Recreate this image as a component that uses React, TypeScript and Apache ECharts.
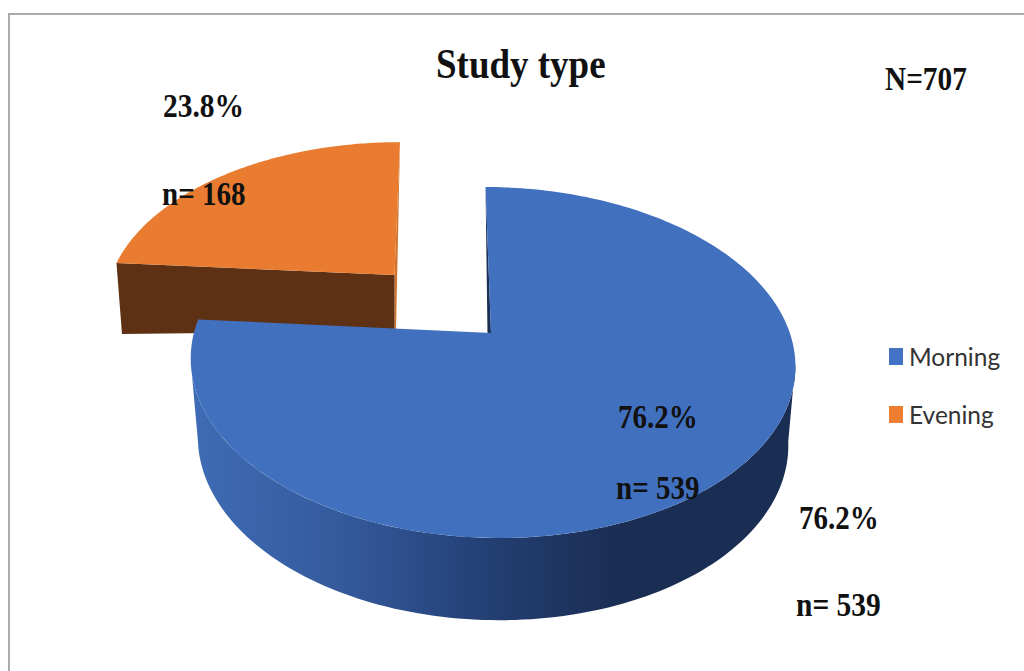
import React, { useEffect, useRef } from "react";
import * as echarts from "echarts";

const categories = ["Morning", "Evening"];
const counts = [539, 168];
const percents = ["76.2%", "23.8%"];
const chartTitle = "Study type";
const totalLabel = "N=707";

const total = counts[0] + counts[1];
const morningSweep = (counts[0] / total) * 2 * Math.PI;

type Frame = { x: number; y: number; rx: number; ry: number; shear: number; bow: number; tilt: number };
const persp = -0.168;

const morningTop: Frame = { x: 491, y: 333, rx: 298, ry: 114.6, shear: 6.4, bow: 1, tilt: 0.5 };
const morningBottom: Frame = { x: 491, y: 411, rx: 291, ry: 105, shear: 6.4, bow: 1, tilt: 0.5 };
const eveningTop: Frame = { x: 394.5, y: 275, rx: 283, ry: 109, shear: -6.4, bow: 0, tilt: 0 };

function rim(f: Frame, a: number): number[] {
  const u = Math.sin(a);
  const v = -Math.cos(a);
  const d = 1 + persp * v;
  return [f.x + (f.rx * u + f.shear * v) / d + f.bow * u * u, (f.y + f.ry * v) / d + f.tilt * u];
}
function arc(f: Frame, from: number, to: number, n = 120): number[][] {
  const pts: number[][] = [];
  for (let i = 0; i <= n; i++) pts.push(rim(f, from + ((to - from) * i) / n));
  return pts;
}

function renderMorning() {
  const start = 0;
  const end = morningSweep;
  const right = Math.PI / 2 + Math.asin(-persp);
  const left = 2 * Math.PI - right;
  const side = [...arc(morningBottom, right, left), ...arc(morningTop, left, right)];
  const startPt = rim(morningTop, start);
  const apex = [morningTop.x, morningTop.y];
  return {
    type: "group",
    children: [
      {
        type: "polygon",
        shape: { points: side },
        style: {
          fill: {
            type: "linear", x: 0, y: 0, x2: 1, y2: 0,
            colorStops: [
              { offset: 0, color: "#3f6cb6" },
              { offset: 0.25, color: "#345a9c" },
              { offset: 0.5, color: "#233e72" },
              { offset: 0.72, color: "#1a2d52" },
              { offset: 1, color: "#1a2d52" },
            ],
          },
        },
      },
      {
        type: "polygon",
        shape: { points: [startPt, apex, [apex[0] - 3.5, apex[1]]] },
        style: { fill: "#1a2d52" },
      },
      {
        type: "polygon",
        shape: { points: [apex, ...arc(morningTop, start, end, 240)] },
        style: { fill: "#4170bf" },
      },
    ],
  };
}

function renderEvening() {
  const start = morningSweep;
  const end = 2 * Math.PI;
  const s = rim(eveningTop, start);
  const e = rim(eveningTop, end);
  const apex = [eveningTop.x, eveningTop.y];
  const apexLow = [apex[0], apex[1] + 56];
  const sLow = [s[0] + 5.5, s[1] + 71];
  return {
    type: "group",
    children: [
      {
        type: "polygon",
        shape: { points: [e, apex, apexLow, [apexLow[0] + 1.5, apexLow[1]]] },
        style: { fill: "#cf722c" },
      },
      {
        type: "polygon",
        shape: { points: [s, apex, apexLow, sLow] },
        style: { fill: "#5f3114" },
      },
      {
        type: "polygon",
        shape: { points: [apex, ...arc(eveningTop, start, end)] },
        style: { fill: "#e97c30" },
      },
    ],
  };
}

function label(text: string, x: number, y: number, fontSize: number, scaleY: number) {
  return {
    type: "text",
    x,
    y,
    scaleY,
    z: 100,
    silent: true,
    style: {
      text,
      fontFamily: "Liberation Serif",
      fontWeight: "bold",
      fontSize,
      fill: "#111",
      textVerticalAlign: "middle",
      textAlign: "left",
    },
  };
}

export default function App() {
  const ref = useRef<HTMLDivElement>(null);
  useEffect(() => {
    const chart = echarts.init(ref.current!, undefined, { renderer: "svg" });
    chart.setOption({
      animation: false,
      backgroundColor: "#ffffff",
      legend: {
        data: categories,
        orient: "vertical",
        left: 889,
        top: 344,
        padding: 0,
        itemWidth: 14,
        itemHeight: 17,
        itemGap: 33,
        icon: "rect",
        selectedMode: false,
        textStyle: { fontFamily: "Lato", fontSize: 24.5, color: "#333", padding: [0, 0, 0, 1] },
      },
      series: [
        {
          type: "custom",
          name: categories[1],
          coordinateSystem: "none",
          silent: true,
          itemStyle: { color: "#ed7d31" },
          data: [counts[1]],
          renderItem: renderEvening,
        },
        {
          type: "custom",
          name: categories[0],
          coordinateSystem: "none",
          silent: true,
          itemStyle: { color: "#4472c4" },
          data: [counts[0]],
          renderItem: renderMorning,
        },
      ],
      graphic: [
        {
          type: "rect",
          z: -1,
          silent: true,
          shape: { x: 9, y: 14, width: 1100, height: 800 },
          style: { fill: "transparent", stroke: "#aaaaaa", lineWidth: 2 },
        },
        label(chartTitle, 436, 64, 37, 1.15),
        label(totalLabel, 885, 79, 29.3, 1.15),
        label(percents[1], 163, 106, 29.5, 1.15),
        label(`n= ${counts[1]}`, 162, 194, 29, 1.15),
        label(percents[0], 618, 417, 29, 1.15),
        label(`n= ${counts[0]}`, 616, 488, 29, 1.15),
        label(percents[0], 799, 518, 29, 1.15),
        label(`n= ${counts[0]}`, 796, 605, 29.5, 1.15),
      ],
    });
    return () => chart.dispose();
  }, []);
  return <div ref={ref} style={{ position: "absolute", left: 0, top: 0, width: 1024, height: 671 }} />;
}
